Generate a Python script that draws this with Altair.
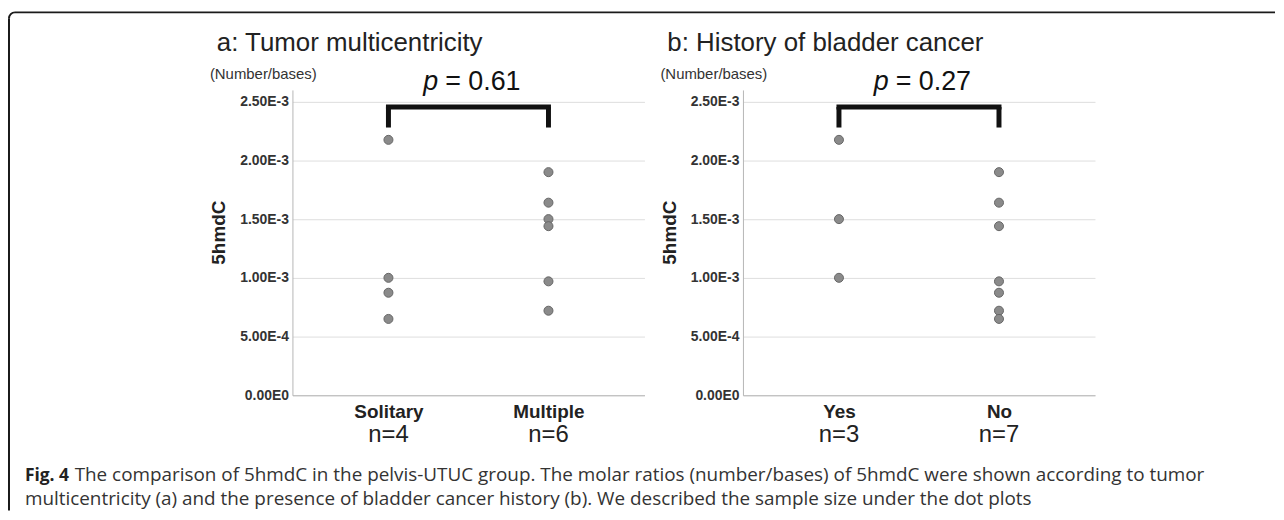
import altair as alt
import pandas as pd

# ---------------- data ----------------
cats_a = ["Solitary", "Multiple"]
solitary = [0.002175, 0.00100, 0.000873, 0.00065]
multiple = [0.00190, 0.00164, 0.00150, 0.00144, 0.00097, 0.00072]

cats_b = ["Yes", "No"]
yes_vals = [0.002175, 0.00150, 0.00100]
no_vals = [0.00190, 0.00164, 0.00144, 0.00097, 0.000873, 0.00072, 0.00065]

n_a = [4, 6]
n_b = [3, 7]
p_a = "= 0.61"
p_b = "= 0.27"
title_a = "a: Tumor multicentricity"
title_b = "b: History of bladder cancer"
unit_label = "(Number/bases)"
y_title = "5hmdC"
y_ticks = [0, 0.0005, 0.001, 0.0015, 0.002, 0.0025]
y_max = 0.0026
bracket_top = 0.002455
bracket_bottom = 0.00228

caption_bold = "Fig. 4"
caption_1 = ("The comparison of 5hmdC in the pelvis-UTUC group. The molar ratios "
             "(number/bases) of 5hmdC were shown according to tumor")
caption_2 = ("multicentricity (a) and the presence of bladder cancer history (b). "
             "We described the sample size under the dot plots")

# ---------------- styling ----------------
W, H = 354, 307
FONT = "Liberation Sans"
CAP_FONT = "Open Sans"
LABEL_EXPR = "replace(replace(format(datum.value, '.2e'), 'e', 'E'), '+', '')"


def panel(cats, groups, ns, p_text, title, with_frame=False):
    xscale = alt.Scale(type="point", domain=cats, padding=0.6)
    yscale = alt.Scale(domain=[0, y_max], nice=False, zero=True)
    x_axis = alt.Axis(title=None, labelAngle=0, labelFont=FONT, labelFontWeight="bold",
                      labelFontSize=19, labelColor="#222", labelPadding=22,
                      labelBaseline="alphabetic", ticks=False, domainColor="#b5b5b5",
                      grid=False)
    y_axis = alt.Axis(values=y_ticks, title=y_title, titleFont=FONT, titleFontSize=19,
                      titleFontWeight="bold", titleColor="#222", titleAngle=270,
                      titleX=-68, titleY=143, titleAlign="center",
                      titleBaseline="alphabetic", labelExpr=LABEL_EXPR, labelFont=FONT,
                      labelFontSize=14, labelFontWeight="bold", labelColor="#333",
                      labelPadding=4, ticks=False, domainColor="#b5b5b5",
                      gridColor="#dedede", grid=True)
    X = alt.X("group:N", scale=xscale, axis=x_axis, sort=cats)
    Y = alt.Y("value:Q", scale=yscale, axis=y_axis)

    pts = pd.DataFrame({
        "group": [c for c, vals in zip(cats, groups) for _ in vals],
        "value": [v for vals in groups for v in vals],
    })
    points = alt.Chart(pts).mark_circle(size=82, color="#8a8a8a", opacity=1,
                                        stroke="#666", strokeWidth=1).encode(x=X, y=Y)

    # bracket
    top = alt.Chart(pd.DataFrame({"group": [cats[0]], "group2": [cats[1]],
                                  "value": [bracket_top]})).mark_rule(
        color="#111", strokeWidth=5, strokeCap="square").encode(
        x=X, x2="group2:N", y=Y)
    legs = alt.Chart(pd.DataFrame({"group": cats, "value": [bracket_bottom] * 2,
                                   "value2": [bracket_top] * 2})).mark_rule(
        color="#111", strokeWidth=5).encode(x=X, y=Y, y2="value2:Q")

    pdf = pd.DataFrame({"group": [cats[0]], "value": [y_max], "pt": [p_text]})
    p_it = alt.Chart(pdf).mark_text(text="p", font=FONT, fontSize=27, fontStyle="italic",
                                    align="left", baseline="alphabetic", dx=35,
                                    color="#111").encode(x=X, y=Y)
    p_val = alt.Chart(pdf).mark_text(font=FONT, fontSize=27, align="left",
                                     baseline="alphabetic", dx=57,
                                     color="#111").encode(x=X, y=Y, text="pt:N")

    ndf = pd.DataFrame({"group": cats, "value": [0, 0], "n": [f"n={n}" for n in ns]})
    n_text = alt.Chart(ndf).mark_text(font=FONT, fontSize=24, align="center",
                                      baseline="alphabetic", dy=47,
                                      color="#222").encode(x=X, y=Y, text="n:N")

    tdf = pd.DataFrame({"t": [title], "u": [unit_label]})
    title_text = alt.Chart(tdf).mark_text(font=FONT, fontSize=26, align="left",
                                          baseline="alphabetic", color="#222").encode(
        x=alt.value(-76), y=alt.value(-39), text="t:N")
    unit_text = alt.Chart(tdf).mark_text(font=FONT, fontSize=15, align="left",
                                         baseline="alphabetic", color="#333").encode(
        x=alt.value(-83), y=alt.value(-11), text="u:N")

    layers = [points, top, legs, p_it, p_val, n_text, title_text, unit_text]

    if with_frame:
        fdf = pd.DataFrame({"k": [0]})
        frame_top = alt.Chart(fdf).mark_rule(color="#1a1a1a", strokeWidth=2).encode(
            x=alt.value(-279), x2=alt.value(988), y=alt.value(-78))
        frame_left = alt.Chart(fdf).mark_rule(color="#1a1a1a", strokeWidth=2).encode(
            x=alt.value(-285), y=alt.value(-72), y2=alt.value(423))
        corner = alt.Chart(fdf).mark_arc(theta=4.7124, theta2=6.2832, radius=7,
                                         radius2=5, color="#1a1a1a").encode(
            x=alt.value(-279), y=alt.value(-72))
        cdf = pd.DataFrame({"b": [caption_bold], "c1": [caption_1], "c2": [caption_2]})
        cap_b = alt.Chart(cdf).mark_text(font=CAP_FONT, fontSize=17.5, fontWeight="bold",
                                         align="left", baseline="alphabetic",
                                         color="#222").encode(
            x=alt.value(-269), y=alt.value(393), text="b:N")
        cap_1 = alt.Chart(cdf).mark_text(font=CAP_FONT, fontSize=19, align="left",
                                         baseline="alphabetic", color="#333").encode(
            x=alt.value(-219), y=alt.value(393), text="c1:N")
        cap_2 = alt.Chart(cdf).mark_text(font=CAP_FONT, fontSize=19, align="left",
                                         baseline="alphabetic", color="#333").encode(
            x=alt.value(-269), y=alt.value(417), text="c2:N")
        layers += [frame_top, frame_left, corner, cap_b, cap_1, cap_2]

    return alt.layer(*layers).properties(width=W, height=H)


panel_a = panel(cats_a, [solitary, multiple], n_a, p_a, title_a, with_frame=True)
panel_b = panel(cats_b, [yes_vals, no_vals], n_b, p_b, title_b)

chart = alt.hconcat(panel_a, panel_b, spacing=99, bounds="flush").properties(
    padding={"left": 0, "top": 2, "right": 0, "bottom": 0},
    background="white",
).configure_view(stroke=None)

chart.save("out.html", embed_options={"renderer": "svg", "actions": False})
